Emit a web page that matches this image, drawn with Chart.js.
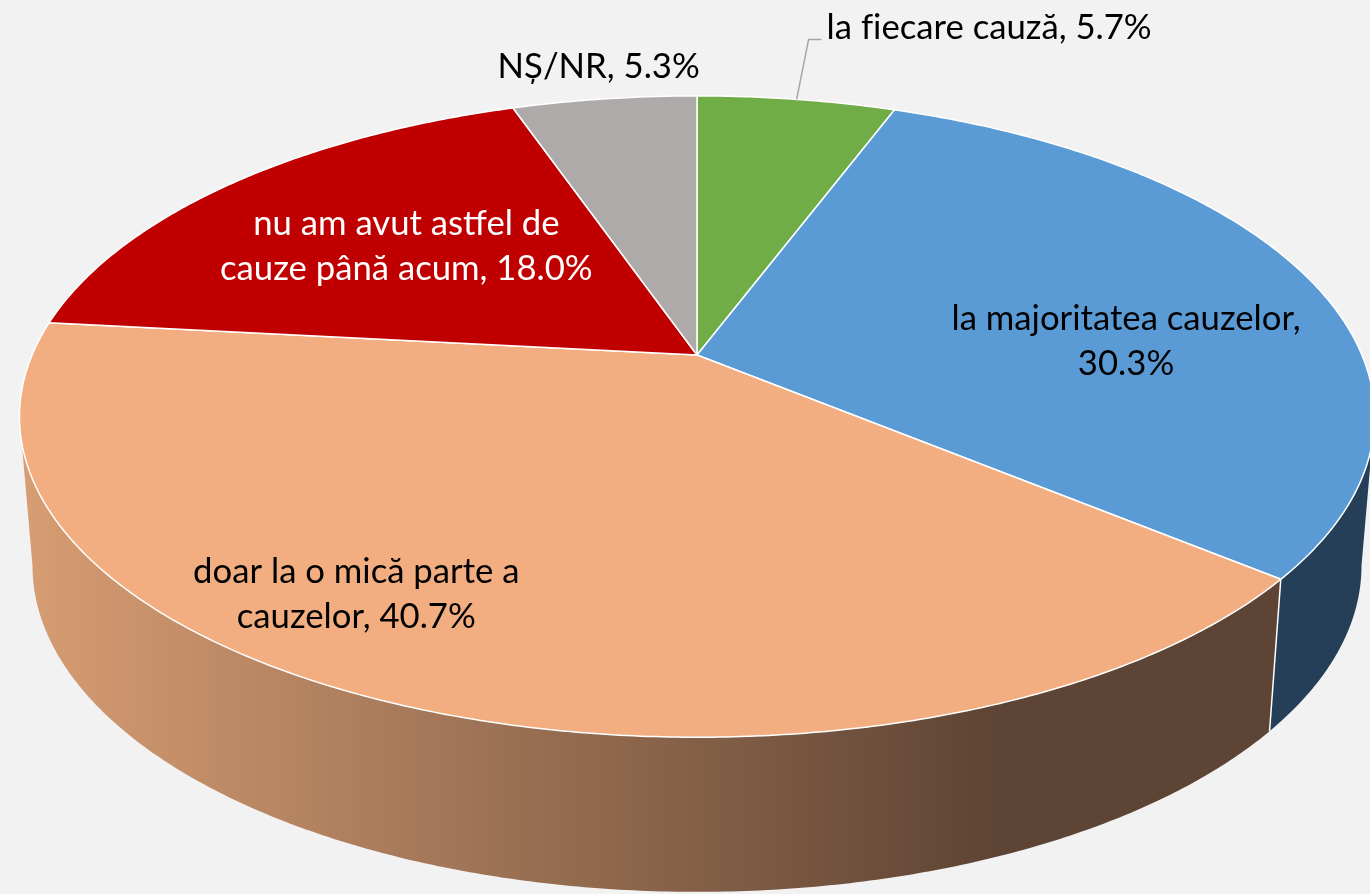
<!DOCTYPE html>
<html>
<head>
<meta charset="utf-8">
<script src="https://cdn.jsdelivr.net/npm/chart.js@4.4.1/dist/chart.umd.min.js"></script>
<style>
  html, body { margin: 0; padding: 0; background: #F2F2F2; }
  #pie { display: block; }
</style>
</head>
<body>
<canvas id="pie" width="1370" height="894"></canvas>
<script>
const categories = ['la fiecare cauză', 'la majoritatea cauzelor', 'doar la o mică parte a cauzelor', 'nu am avut astfel de cauze până acum', 'NȘ/NR'];
const shares = [5.7, 30.3, 40.7, 18.0, 5.3];
const sliceColors = ['#70AD47', '#5B9BD5', '#F2AE80', '#C00000', '#AEAAAA'];
const wallColors = ['#446A2B', '#243F57', 'gradient', '#730000', '#686666'];
const labelColors = ['#000000', '#000000', '#000000', '#FFFFFF', '#000000'];

// where each label sits: radius in pie radii, angle shift (deg) from slice middle
const labelRadius = [1.0, 0.65, 0.816, 0.59, 1.13];
const labelShift = [0, 12.1, 10.2, -0.9, 0.4];
const labelWrap = [false, true, true, true, false];
const labelLeader = [true, false, false, false, false];

(function() {
    'use strict';

    // tilted view of the pie: widths/heights in pie radii, perspective, thickness
    const VIEW = { sx: 1.873, sy: 0.870, persp: 0.192, drop: 0.417, bsx: 1.837, bsy: 0.885 };
    const FONT = '34.7px Lato';
    const LINE_H = 45;

    function project(arc, theta, r, floor) {
        const R = arc.outerRadius;
        const c = Math.cos(theta) * r, s = Math.sin(theta) * r;
        const k = 1 + VIEW.persp * c;
        const sx = floor ? VIEW.bsx : VIEW.sx;
        const sy = floor ? VIEW.bsy : VIEW.sy;
        return {
            x: arc.x + sx * R * s / k,
            y: arc.y + (floor ? VIEW.drop * R : 0) - sy * R * c / k
        };
    }

    function rimPath(ctx, arc, t1, t2, floor, first) {
        const steps = Math.max(2, Math.ceil(Math.abs(t2 - t1) / (Math.PI / 360)));
        for (let j = 0; j <= steps; j++) {
            const p = project(arc, t1 + (t2 - t1) * j / steps, 1, floor);
            if (j === 0 && first) ctx.moveTo(p.x, p.y); else ctx.lineTo(p.x, p.y);
        }
    }

    // chart angles start at -PI/2 (top); turn them into "clockwise from top"
    const th = a => a + Math.PI / 2;

    // keep "fi" as two letters (no ligature), like the original
    const noLig = s => s.replace(/fi/g, 'f\u200Ci');

    function wrapText(ctx, text, maxW) {
        const words = text.split(' ');
        const lines = [];
        let cur = '';
        words.forEach(w => {
            const test = cur ? cur + ' ' + w : w;
            if (cur && ctx.measureText(test).width > maxW) { lines.push(cur); cur = w; }
            else cur = test;
        });
        if (cur) lines.push(cur);
        return lines;
    }

    const pie3d = {
        id: 'pie3d',
        beforeDatasetsDraw(chart) {
            const ctx = chart.ctx;
            const arcs = chart.getDatasetMeta(0).data;
            const ref = arcs[0];
            const tA = Math.acos(-VIEW.persp), tB = 2 * Math.PI - tA;

            ctx.save();
            ctx.lineJoin = 'round';

            // side walls (front part only)
            const gx0 = ref.x - VIEW.sx * ref.outerRadius;
            const gx1 = ref.x + 0.45 * VIEW.sx * ref.outerRadius;
            const grad = ctx.createLinearGradient(gx0, 0, gx1, 0);
            grad.addColorStop(0, '#D69C72');
            grad.addColorStop(1, '#5E4434');
            arcs.forEach((arc, i) => {
                const a = Math.max(th(arc.startAngle), tA);
                const b = Math.min(th(arc.endAngle), tB);
                if (a >= b) return;
                ctx.beginPath();
                rimPath(ctx, arc, a, b, false, true);
                rimPath(ctx, arc, b, a, true, false);
                ctx.closePath();
                ctx.fillStyle = wallColors[i] === 'gradient' ? grad : wallColors[i];
                ctx.fill();
            });

            // seams between walls
            ctx.strokeStyle = '#FFFFFF';
            ctx.lineWidth = 1.5;
            arcs.forEach(arc => {
                const t = th(arc.startAngle);
                if (t <= tA || t >= tB) return;
                const p = project(arc, t, 1, false), q = project(arc, t, 1, true);
                ctx.beginPath();
                ctx.moveTo(p.x, p.y);
                ctx.lineTo(q.x, q.y);
                ctx.stroke();
            });

            // top faces
            arcs.forEach(arc => {
                const c0 = project(arc, 0, 0, false);
                ctx.beginPath();
                ctx.moveTo(c0.x, c0.y);
                rimPath(ctx, arc, th(arc.startAngle), th(arc.endAngle), false, false);
                ctx.closePath();
                ctx.fillStyle = arc.options.backgroundColor;
                ctx.fill();
                ctx.strokeStyle = '#FFFFFF';
                ctx.lineWidth = 1.5;
                ctx.stroke();
            });
            ctx.restore();
            return false;
        },
        afterDraw(chart) {
            const ctx = chart.ctx;
            const arcs = chart.getDatasetMeta(0).data;
            ctx.save();
            ctx.font = FONT;
            ctx.textBaseline = 'alphabetic';
            arcs.forEach((arc, i) => {
                const text = categories[i] + ', ' + shares[i].toFixed(1) + '%';
                const mid = th((arc.startAngle + arc.endAngle) / 2) + labelShift[i] * Math.PI / 180;
                const p = project(arc, mid, labelRadius[i], false);
                ctx.fillStyle = labelColors[i];
                if (labelLeader[i]) {
                    ctx.strokeStyle = '#A6A6A6';
                    ctx.lineWidth = 1.5;
                    ctx.beginPath();
                    ctx.moveTo(p.x, p.y);
                    ctx.lineTo(p.x + 12, p.y - 60);
                    ctx.lineTo(p.x + 25, p.y - 60);
                    ctx.stroke();
                    ctx.textAlign = 'left';
                    ctx.fillText(noLig(text), p.x + 30, p.y - 60);
                    return;
                }
                const lines = labelWrap[i] ? wrapText(ctx, text, 375) : [text];
                ctx.textAlign = 'center';
                lines.forEach((ln, j) => {
                    ctx.fillText(noLig(ln), p.x, p.y + (j - (lines.length - 1) / 2) * LINE_H + 7);
                });
            });
            ctx.restore();
        }
    };

    function initChart() {
        const canvas = document.getElementById('pie');
        new Chart(canvas.getContext('2d'), {
            type: 'pie',
            data: {
                labels: categories,
                datasets: [{ data: shares, backgroundColor: sliceColors, borderWidth: 0 }]
            },
            options: {
                responsive: false,
                animation: false,
                layout: { padding: { left: 24, right: 0, top: 0, bottom: 184 } },
                plugins: { legend: { display: false }, tooltip: { enabled: false } }
            },
            plugins: [pie3d]
        });
    }

    if (document.readyState === 'loading') {
        document.addEventListener('DOMContentLoaded', initChart);
    } else {
        initChart();
    }
})();
</script>
</body>
</html>
